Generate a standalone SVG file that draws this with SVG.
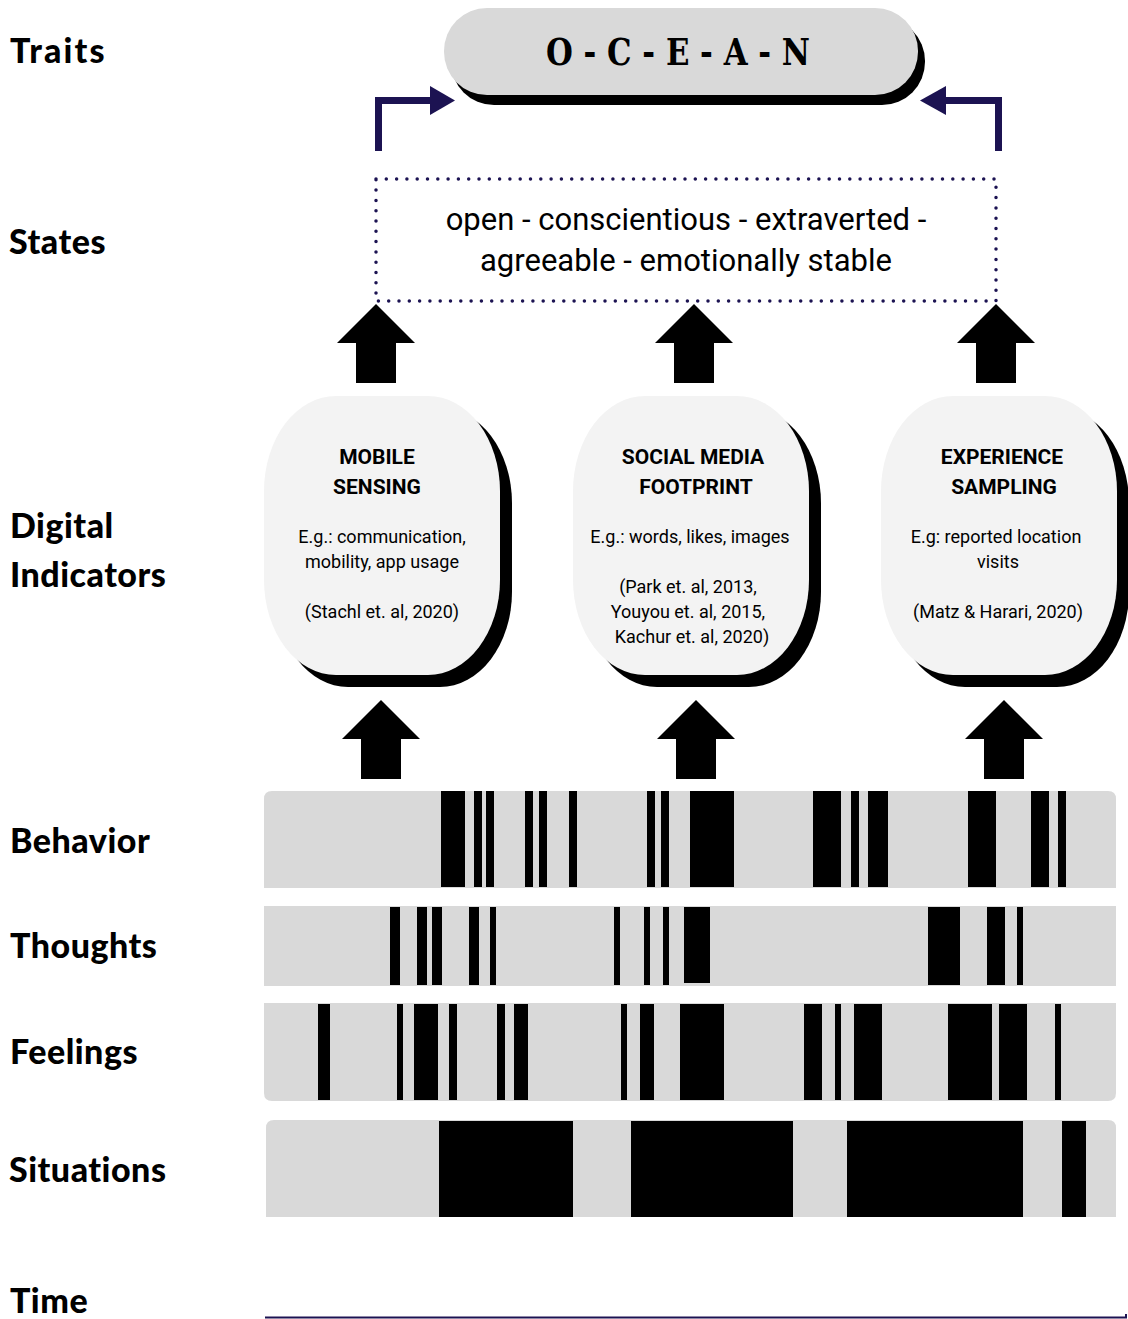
<svg xmlns="http://www.w3.org/2000/svg" width="1128" height="1319" viewBox="0 0 1128 1319">
<style>
.lbl{font-family:Lato,"Noto Sans","Liberation Sans",sans-serif;font-weight:900;font-size:34px;letter-spacing:0.5px;fill:#000}
.title{font-family:Roboto,"Liberation Sans",sans-serif;font-weight:700;font-size:21px;fill:#000;text-anchor:middle}
.body{font-family:Roboto,"Liberation Sans",sans-serif;font-size:18px;fill:#000;text-anchor:middle}
.state{font-family:Roboto,"Liberation Sans",sans-serif;font-size:31px;fill:#000;text-anchor:middle}
.node-bg{fill:#f3f3f3}
.shadow{fill:#000}
.bg{fill:#d9d9d9}
.bar{fill:#000}
.navy{fill:none;stroke:#1c1352;stroke-width:7}
.navyhead{fill:#1c1352}
.up{fill:#000}
</style>
<defs>
<rect id="nodeShape" x="0" y="0" width="236" height="279" rx="72" ry="95"/>
<polygon id="upArrow" points="0,0 39,39 20,39 20,79 -20,79 -20,39 -39,39"/>
</defs>
<rect width="1128" height="1319" fill="#fff"/>

<g id="labels">
<text class="lbl" x="10" y="63" textLength="95">Traits</text>
<text class="lbl" x="9" y="254">States</text>
<text class="lbl" x="10" y="538">Digital</text>
<text class="lbl" x="10" y="587">Indicators</text>
<text class="lbl" x="10" y="853">Behavior</text>
<text class="lbl" x="10" y="958">Thoughts</text>
<text class="lbl" x="10" y="1064">Feelings</text>
<text class="lbl" x="9" y="1182">Situations</text>
<text class="lbl" x="10" y="1313">Time</text>
</g>

<g id="ocean">
<rect x="451" y="18" width="474" height="87" rx="43" ry="43" class="shadow"/>
<rect x="444" y="8" width="474" height="87" rx="43" ry="43" fill="#d9d9d9"/>
<text x="678" y="65" text-anchor="middle" font-family="'DejaVu Serif','Liberation Serif',serif" font-weight="700" font-size="37" textLength="264" lengthAdjust="spacingAndGlyphs">O - C - E - A - N</text>
</g>

<g id="states">
<rect x="376" y="179" width="620" height="122" fill="none" stroke="#1c1352" stroke-width="3.5" stroke-linecap="round" stroke-dasharray="0 10.3"/>
<text class="state" x="686" y="230">open - conscientious - extraverted -</text>
<text class="state" x="686" y="271">agreeable - emotionally stable</text>
</g>

<g id="node-mobile">
<use href="#nodeShape" x="276" y="408" class="shadow"/>
<use href="#nodeShape" x="264" y="396" class="node-bg"/>
<text class="title" x="377" y="464">MOBILE</text>
<text class="title" x="377" y="494">SENSING</text>
<text class="body" x="382" y="543">E.g.: communication,</text>
<text class="body" x="382" y="568">mobility, app usage</text>
<text class="body" x="382" y="618">(Stachl et. al, 2020)</text>
</g>

<g id="node-social">
<use href="#nodeShape" x="585" y="408" class="shadow"/>
<use href="#nodeShape" x="573" y="396" class="node-bg"/>
<text class="title" x="693" y="464">SOCIAL MEDIA</text>
<text class="title" x="696" y="494">FOOTPRINT</text>
<text class="body" x="690" y="543">E.g.: words, likes, images</text>
<text class="body" x="688" y="593">(Park et. al, 2013,</text>
<text class="body" x="688" y="618">Youyou et. al, 2015,</text>
<text class="body" x="692" y="643">Kachur et. al, 2020)</text>
</g>

<g id="node-experience">
<use href="#nodeShape" x="893" y="408" class="shadow"/>
<use href="#nodeShape" x="881" y="396" class="node-bg"/>
<text class="title" x="1002" y="464">EXPERIENCE</text>
<text class="title" x="1004" y="494">SAMPLING</text>
<text class="body" x="996" y="543">E.g: reported location</text>
<text class="body" x="998" y="568">visits</text>
<text class="body" x="998" y="618">(Matz &amp; Harari, 2020)</text>
</g>

<g id="row-behavior">
<path class="bg" d="M264,799 Q264,791 272,791 H1108 Q1116,791 1116,799 V888 H264 Z"/>
<g class="bar">
<rect x="441" y="791" width="24" height="96"/>
<rect x="474" y="791" width="8" height="96"/>
<rect x="486" y="791" width="8" height="96"/>
<rect x="525" y="791" width="8" height="96"/>
<rect x="539" y="791" width="8" height="96"/>
<rect x="569" y="791" width="8" height="96"/>
<rect x="647" y="791" width="8" height="96"/>
<rect x="661" y="791" width="8" height="96"/>
<rect x="690" y="791" width="44" height="96"/>
<rect x="813" y="791" width="28" height="96"/>
<rect x="851" y="791" width="8" height="96"/>
<rect x="868" y="791" width="20" height="96"/>
<rect x="968" y="791" width="28" height="96"/>
<rect x="1031" y="791" width="18" height="96"/>
<rect x="1058" y="791" width="8" height="96"/>
</g>
</g>

<g id="row-thoughts">
<rect class="bg" x="264" y="906" width="852" height="80"/>
<g class="bar">
<rect x="390" y="907" width="10" height="78"/>
<rect x="417" y="907" width="10" height="78"/>
<rect x="432" y="907" width="10" height="78"/>
<rect x="469" y="907" width="10" height="78"/>
<rect x="490" y="907" width="6" height="78"/>
<rect x="614" y="907" width="6" height="78"/>
<rect x="644" y="907" width="6" height="78"/>
<rect x="663" y="907" width="6" height="78"/>
<rect x="684" y="907" width="26" height="76"/>
<rect x="928" y="907" width="32" height="78"/>
<rect x="987" y="907" width="18" height="78"/>
<rect x="1017" y="907" width="6" height="78"/>
</g>
</g>

<g id="row-feelings">
<path class="bg" d="M264,1003 H1116 V1093 Q1116,1101 1108,1101 H272 Q264,1101 264,1093 Z"/>
<g class="bar">
<rect x="318" y="1004" width="12" height="96"/>
<rect x="397" y="1004" width="6" height="96"/>
<rect x="414" y="1004" width="24" height="96"/>
<rect x="449" y="1004" width="8" height="96"/>
<rect x="497" y="1004" width="8" height="96"/>
<rect x="514" y="1004" width="14" height="96"/>
<rect x="621" y="1004" width="6" height="96"/>
<rect x="640" y="1004" width="14" height="96"/>
<rect x="680" y="1004" width="44" height="96"/>
<rect x="804" y="1004" width="18" height="96"/>
<rect x="835" y="1004" width="6" height="96"/>
<rect x="854" y="1004" width="28" height="96"/>
<rect x="948" y="1004" width="44" height="96"/>
<rect x="999" y="1004" width="28" height="96"/>
<rect x="1055" y="1004" width="6" height="96"/>
</g>
</g>

<g id="row-situations">
<path class="bg" d="M266,1128 Q266,1120 274,1120 H1108 Q1116,1120 1116,1128 V1217 H266 Z"/>
<g class="bar">
<rect x="439" y="1121" width="134" height="96"/>
<rect x="631" y="1121" width="162" height="96"/>
<rect x="847" y="1121" width="176" height="96"/>
<rect x="1062" y="1121" width="24" height="96"/>
</g>
</g>

<g id="connectors">
<use href="#upArrow" x="376" y="304" class="up"/>
<use href="#upArrow" x="694" y="304" class="up"/>
<use href="#upArrow" x="996" y="304" class="up"/>
<use href="#upArrow" x="381" y="700" class="up"/>
<use href="#upArrow" x="696" y="700" class="up"/>
<use href="#upArrow" x="1004" y="700" class="up"/>
<path class="navy" d="M378.5,151 V100.5 H432"/>
<polygon class="navyhead" points="430,86 455,100.5 430,115"/>
<path class="navy" d="M998.5,151 V100.5 H944"/>
<polygon class="navyhead" points="946,86 920,100.5 946,115"/>
<line x1="265" y1="1317.5" x2="1127" y2="1317.5" stroke="#1c1352" stroke-width="2"/>
<rect x="1125" y="1314" width="2" height="4" fill="#1c1352"/>
</g>
</svg>
